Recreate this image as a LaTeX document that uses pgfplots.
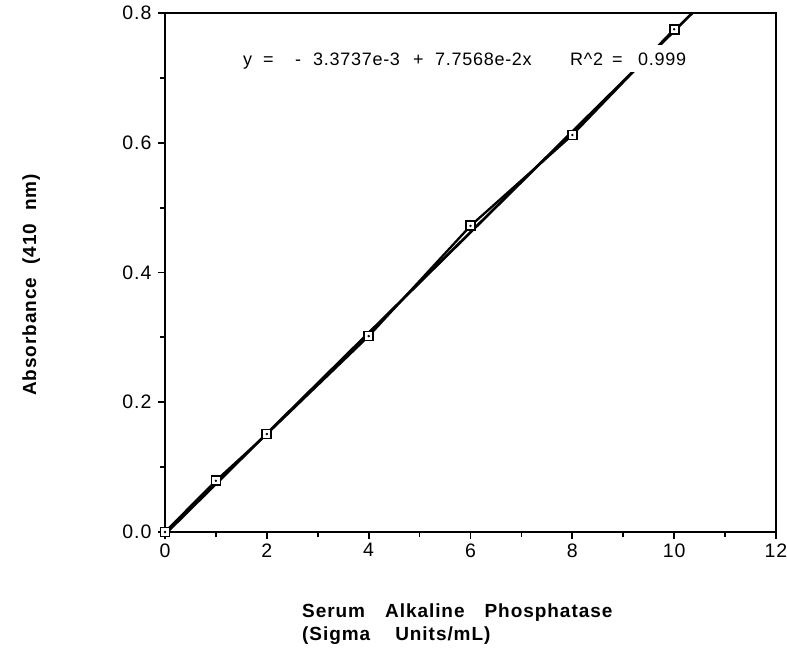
\documentclass[border=0pt]{standalone}
\usepackage{fontspec}
\setmainfont{Liberation Sans}
\newfontfamily\lsfont[LetterSpace=5]{Liberation Sans}
\newfontfamily\eqfont[LetterSpace=4]{Liberation Sans}
\usepackage{pgfplots}
\pgfplotsset{compat=1.18}
\begin{document}
\begin{tikzpicture}[x=1pt,y=1pt]
\path[use as bounding box] (0,0) rectangle (787,-649);
\begin{axis}[
  scale only axis,
  width=611pt, height=519pt,
  at={(165pt,-532pt)}, anchor=south west,
  xmin=0, xmax=12, ymin=0, ymax=0.8,
  xtick={0,2,...,12}, minor x tick num=1,
  ytick={0,0.2,0.4,0.6,0.8}, minor y tick num=1,
  tick align=outside, tick pos=left,
  major tick length=7pt, minor tick length=5pt,
  every tick/.style={black, line width=1.8pt},
  axis line style={line width=2.2pt},
  clip=true,
  /pgf/number format/assume math mode=true,
  yticklabel style={/pgf/number format/fixed,/pgf/number format/fixed zerofill,/pgf/number format/precision=1, font=\lsfont\fontsize{19.5}{22}\selectfont, xshift=-3pt},
  xticklabel style={font=\lsfont\fontsize{19.5}{22}\selectfont, yshift=-1pt},
  xlabel={\bfseries Serum\hspace{20pt}Alkaline\hspace{20pt}Phosphatase\\\bfseries(Sigma\hspace{25pt}Units/mL)},
  xlabel style={at={(axis description cs:0.2242,-0.1387)}, anchor=north west, align=left, inner sep=0pt, font=\lsfont\fontsize{19}{23}\selectfont},
  ylabel={\bfseries Absorbance\hspace{13pt}(410\hspace{13pt}nm)},
  ylabel style={at={(axis description cs:-0.219,0.476)}, anchor=center, rotate=0, inner sep=0pt, font=\lsfont\fontsize{19}{22}\selectfont},
]
\addplot[black, line width=2.7pt] coordinates {(0,-0.0033737) (10.357,0.8)};
\addplot[black, line width=2.3pt, mark=square*, mark size=4.5pt,
  mark options={fill=white, draw=black, line width=1.7pt, solid}]
  coordinates {(0,0) (1,0.079) (2,0.151) (4,0.302) (6,0.472) (8,0.612) (10,0.775)};
\addplot[only marks, mark=*, mark size=1pt, black]
  coordinates {(0,0) (1,0.079) (2,0.151) (4,0.302) (6,0.472) (8,0.612) (10,0.775)};
\end{axis}
\fill[white] (238,-45) rectangle (694,-72);
\begin{scope}[every node/.style={anchor=base west, inner sep=0pt, font=\eqfont\fontsize{18}{21}\selectfont}]
\node at (243,-65) {y};
\node at (263,-65) {=};
\node at (295,-65) {-};
\node at (313,-65) {3.3737e-3};
\node at (413,-65) {+};
\node at (435,-65) {7.7568e-2x};
\node at (570,-65) {R\^{}2};
\node at (612,-65) {=};
\node at (638,-65) {0.999};
\end{scope}
\end{tikzpicture}
\end{document}
